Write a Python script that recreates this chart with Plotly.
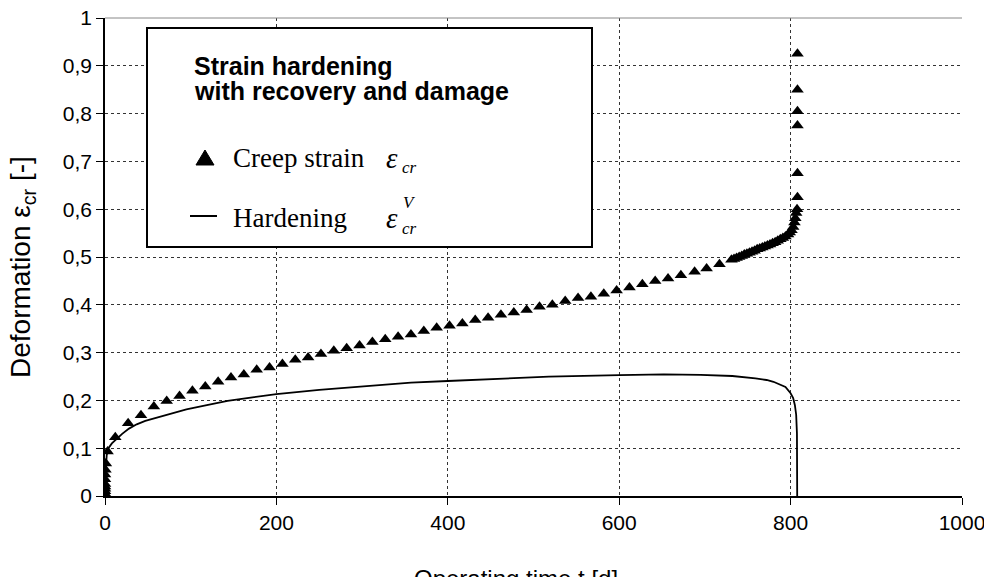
import plotly.graph_objects as go

# ---- data ----
creep_t = [0, 0, 0, 0, 0, 0, 0, 0, 0.5, 1, 3,
           12, 27, 42, 57, 72, 87, 102, 117, 132, 147, 162, 177, 192, 207, 222, 237,
           252, 267, 282, 297, 312, 327, 342, 357, 372, 387, 402, 417, 432, 447, 462,
           477, 492, 507, 522, 537, 552, 567, 582, 597, 612, 627, 642, 657, 672, 688,
           702, 717,
           731, 734, 737, 740, 743, 746, 749, 752, 755, 758, 761, 764, 767, 770, 773,
           776, 779, 782, 785, 788, 791, 794, 797, 799, 801, 803, 804.5, 805.5, 806.5,
           807.5, 808, 808, 808, 808, 808, 808]
creep_eps = [0, 0.005, 0.01, 0.015, 0.02, 0.025, 0.035, 0.045, 0.055, 0.068, 0.093,
             0.123, 0.152, 0.169, 0.187, 0.199, 0.209, 0.220, 0.229, 0.239, 0.248, 0.254,
             0.264, 0.269, 0.276, 0.285, 0.290, 0.297, 0.304, 0.309, 0.315, 0.322, 0.328,
             0.333, 0.338, 0.345, 0.352, 0.356, 0.361, 0.368, 0.373, 0.379, 0.384, 0.389,
             0.396, 0.400, 0.408, 0.414, 0.417, 0.423, 0.430, 0.436, 0.443, 0.450, 0.455,
             0.462, 0.469, 0.476, 0.485,
             0.494, 0.496, 0.498, 0.500, 0.502, 0.505, 0.507, 0.509, 0.511, 0.513, 0.516,
             0.518, 0.520, 0.522, 0.524, 0.526, 0.529, 0.531, 0.534, 0.537, 0.540, 0.543,
             0.547, 0.551, 0.556, 0.563, 0.572, 0.581, 0.592, 0.600, 0.625, 0.675, 0.775,
             0.805, 0.850, 0.925]

hard_t = [0, 0.3, 1, 2, 4, 8, 14, 20, 28, 37, 47, 57, 68, 80, 95, 116, 143, 170, 200,
          250, 303, 357, 400, 464, 518, 600, 652, 695, 732, 759, 772, 780, 787, 794,
          800, 803, 805, 806.5, 807.4, 807.6, 807.7]
hard_eps = [0, 0.03, 0.06, 0.085, 0.1, 0.11, 0.121, 0.13, 0.141, 0.15, 0.157, 0.162,
            0.168, 0.173, 0.181, 0.189, 0.199, 0.206, 0.213, 0.222, 0.230, 0.237, 0.2406,
            0.246, 0.2496, 0.253, 0.2545, 0.2535, 0.251, 0.246, 0.2427, 0.239, 0.234,
            0.228, 0.215, 0.205, 0.19, 0.17, 0.131, 0.06, 0]

x_tickvals = [0, 200, 400, 600, 800, 1000]
x_ticktext = ["0", "200", "400", "600", "800", "1000"]
y_tickvals = [0, 0.1, 0.2, 0.3, 0.4, 0.5, 0.6, 0.7, 0.8, 0.9, 1.0]
y_ticktext = ["0", "0,1", "0,2", "0,3", "0,4", "0,5", "0,6", "0,7", "0,8", "0,9", "1"]

legend_title = ["Strain hardening", "with recovery and damage"]
legend_labels = ["Creep strain", "Hardening"]
x_title = "Operating time t [d]"
y_title = "Deformation ε<sub>cr</sub> [-]"

SANS = "Liberation Sans, Arial, sans-serif"
SERIF = "Liberation Serif, Times New Roman, serif"

# target plot area on screen (the page adds an 8px body margin)
OFF = 8
L, R, T, B = 105, 962, 18, 496


def px(x):
    return (x - L) / (R - L)


def py(y):
    return (B - y) / (B - T)


fig = go.Figure()
fig.add_trace(go.Scatter(x=hard_t, y=hard_eps, mode="lines",
                         line=dict(color="black", width=1.8), showlegend=False,
                         hoverinfo="skip"))
fig.add_trace(go.Scatter(x=creep_t, y=creep_eps, mode="markers",
                         marker=dict(symbol="triangle-up", size=11, color="black"),
                         showlegend=False))

grid = dict(showgrid=True, gridcolor="#333333", gridwidth=1, griddash="3px,3px")
common = dict(ticks="outside", ticklen=7, tickcolor="black", showline=True,
              linecolor="black", linewidth=1.5, zeroline=False, automargin=False,
              ticklabeloverflow="allow",
              tickfont=dict(family=SANS, size=21, color="black"))
fig.update_xaxes(range=[0, 1000], tickvals=x_tickvals, ticktext=x_ticktext,
                 **common, **grid)
fig.update_yaxes(range=[0, 1], tickvals=y_tickvals, ticktext=y_ticktext,
                 **common, **grid)

# axis titles
fig.add_annotation(xref="paper", yref="paper", x=px(516), y=py(578), xanchor="center",
                   yanchor="middle", showarrow=False, text=x_title,
                   font=dict(family=SANS, size=24, color="black"))
fig.add_annotation(xref="paper", yref="paper", x=px(22), y=py(267), xanchor="center",
                   yanchor="middle", showarrow=False, text=y_title, textangle=-90,
                   font=dict(family=SANS, size=28, color="black"))

# top border line
fig.add_shape(type="line", xref="paper", yref="paper", x0=0, x1=1, y0=1, y1=1,
              line=dict(color="#888888", width=1))

# legend box
fig.add_shape(type="rect", xref="paper", yref="paper", x0=px(147), x1=px(592),
              y0=py(247), y1=py(28), line=dict(color="black", width=2), fillcolor="white")
fig.add_annotation(xref="paper", yref="paper", x=px(192), y=py(66), xanchor="left",
                   yanchor="middle", showarrow=False, text="<b>" + legend_title[0] + "</b>",
                   font=dict(family=SANS, size=25, color="black"))
fig.add_annotation(xref="paper", yref="paper", x=px(192), y=py(91), xanchor="left",
                   yanchor="middle", showarrow=False, text="<b>" + legend_title[1] + "</b>",
                   font=dict(family=SANS, size=25, color="black"))
# creep strain entry
fig.add_shape(type="path", xref="paper", yref="paper",
              path="M %f %f L %f %f L %f %f Z" % (px(196), py(165), px(214), py(165),
                                                  px(205), py(150)),
              fillcolor="black", line=dict(color="black", width=1))
fig.add_annotation(xref="paper", yref="paper", x=px(231), y=py(158), xanchor="left",
                   yanchor="middle", showarrow=False, text=legend_labels[0],
                   font=dict(family=SERIF, size=27, color="black"))
fig.add_annotation(xref="paper", yref="paper", x=px(384), y=py(158), xanchor="left",
                   yanchor="middle", showarrow=False, text="<i>ε</i>",
                   font=dict(family=SERIF, size=29, color="black"))
fig.add_annotation(xref="paper", yref="paper", x=px(400), y=py(167), xanchor="left",
                   yanchor="middle", showarrow=False, text="<i>cr</i>",
                   font=dict(family=SERIF, size=17, color="black"))
# hardening entry
fig.add_shape(type="line", xref="paper", yref="paper", x0=px(190), x1=px(217),
              y0=py(216), y1=py(216), line=dict(color="black", width=2))
fig.add_annotation(xref="paper", yref="paper", x=px(231), y=py(218), xanchor="left",
                   yanchor="middle", showarrow=False, text=legend_labels[1],
                   font=dict(family=SERIF, size=27, color="black"))
fig.add_annotation(xref="paper", yref="paper", x=px(384), y=py(218), xanchor="left",
                   yanchor="middle", showarrow=False, text="<i>ε</i>",
                   font=dict(family=SERIF, size=29, color="black"))
fig.add_annotation(xref="paper", yref="paper", x=px(401), y=py(202), xanchor="left",
                   yanchor="middle", showarrow=False, text="<i>V</i>",
                   font=dict(family=SERIF, size=17, color="black"))
fig.add_annotation(xref="paper", yref="paper", x=px(400), y=py(228), xanchor="left",
                   yanchor="middle", showarrow=False, text="<i>cr</i>",
                   font=dict(family=SERIF, size=17, color="black"))

fig.update_layout(width=992, height=577,
                  margin=dict(l=L - OFF, r=992 - R + OFF, t=T - OFF, b=577 - B + OFF),
                  plot_bgcolor="white", paper_bgcolor="white", showlegend=False)

fig.write_html("out.html")
